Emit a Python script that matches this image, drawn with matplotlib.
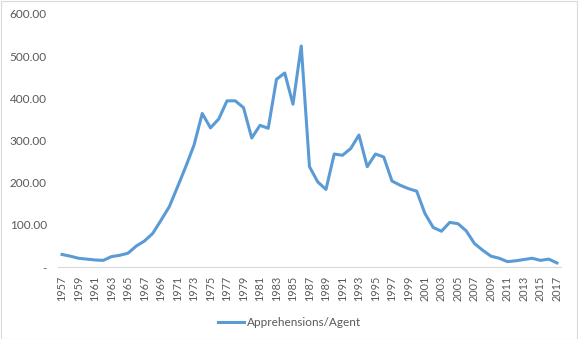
import matplotlib.pyplot as plt
from matplotlib.ticker import FuncFormatter

plt.rcParams['font.family'] = ['Lato', 'DejaVu Sans']

years = list(range(1957, 2018))
apprehensions_per_agent = [
    30, 26, 21, 19, 17, 16, 25, 28, 33, 50,
    62, 80, 111, 143, 190, 238, 289, 364, 330, 351,
    394, 394, 378, 306, 336, 329, 445, 460, 386, 524,
    238, 202, 184, 268, 265, 281, 313, 238, 268, 261,
    204, 194, 186, 180, 127, 94, 85, 106, 103, 86,
    56, 40, 26, 21, 13, 15, 18, 21, 16, 19,
    10,
]

fig = plt.figure(figsize=(5.79, 3.39), dpi=100)
ax = fig.add_axes([0.1, 0.212, 0.869, 0.747])

x = list(range(len(years)))
ax.plot(x, apprehensions_per_agent, color="#5B9BD5", linewidth=2.2,
        label="Apprehensions/Agent", solid_joinstyle="round")

ax.set_xlim(-0.5, len(years) - 0.5)
ax.set_ylim(0, 600)
ax.set_yticks(range(0, 601, 100))
ax.yaxis.set_major_formatter(FuncFormatter(lambda v, p: "-" if v == 0 else f"{v:.2f}"))
ax.set_xticks(x[::2])
ax.set_xticklabels([str(y) for y in years[::2]], rotation=90)

for side in ["top", "right", "left"]:
    ax.spines[side].set_visible(False)
ax.spines["bottom"].set_color("#d9d9d9")
ax.tick_params(axis="both", length=0, colors="#595959", labelsize=8.5)
ax.tick_params(axis="x", pad=6, labelsize=7.8)
ax.tick_params(axis="y", pad=8)

fig.legend(loc="lower center", bbox_to_anchor=(0.5, 0.0), frameon=False,
           fontsize=8.5, handlelength=2.2, handletextpad=0.3,
           labelcolor="#595959")

# chart border
fig.patches.append(plt.Rectangle((0.001, 0.001), 0.996, 0.996, transform=fig.transFigure,
                                 fill=False, edgecolor="#d9d9d9", linewidth=0.8))

fig.savefig("out.png", dpi=100)
